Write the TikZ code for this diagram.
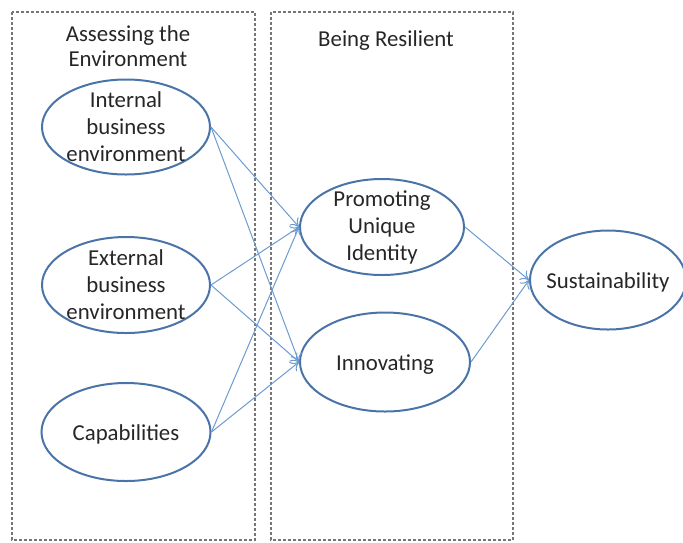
\documentclass[tikz,border=0pt]{standalone}
\usepackage{fontspec}
\setmainfont{Carlito}
\usetikzlibrary{shapes.geometric,arrows.meta}
\definecolor{ovalblue}{HTML}{4A74A8}
\definecolor{arrowblue}{HTML}{6C9BD2}
\definecolor{boxgray}{HTML}{767676}

\begin{document}
\begin{tikzpicture}[x=0.5pt,y=-0.5pt,
    oval/.style={ellipse, draw=ovalblue, line width=1pt, inner sep=0pt},
    txt/.style={align=center, font=\fontsize{11.4}{13.5}\selectfont, text=black!85},
    oneline/.style={txt, yshift=-1.2pt},
    group/.style={draw=boxgray, line width=1pt, dash pattern=on 1.5pt off 1pt},
    link/.style={draw=arrowblue, line width=0.5pt, -{To[length=4pt,width=6pt]}}]
            \useasboundingbox (0,0) rectangle (683,542);

            % the two groups
            \draw[group] (12,12) rectangle (255,540);
            \draw[group] (271,12) rectangle (513,540);
            \node[txt, font=\fontsize{11.4}{12.8}\selectfont] (assess) at (128,46) {Assessing the\\Environment};
            \node[oneline] (resil) at (386,38) {Being Resilient};

            % left column
            \node[oval, minimum width=84pt, minimum height=47.5pt,
                label={[txt]center:Internal\\business\\environment}] (int) at (126,127) {};
            \node[oval, minimum width=84pt, minimum height=48pt,
                label={[txt]center:External\\business\\environment}] (ext) at (126,285) {};
            \node[oval, minimum width=84.5pt, minimum height=49pt,
                label={[oneline]center:Capabilities}] (cap) at (126,432) {};

            % middle column
            \node[oval, minimum width=82pt, minimum height=48pt,
                label={[txt]center:Promoting\\Unique\\Identity}] (prom) at (382,227) {};
            \node[oval, minimum width=85pt, minimum height=49.5pt,
                label={[oneline]center:Innovating}] (innov) at (385,362) {};

            % right
            \node[oval, minimum width=78pt, minimum height=49.5pt,
                label={[oneline]center:Sustainability}] (sust) at (608,280) {};

            \draw[link] (int.east) -- (prom.west);
            \draw[link] (int.east) -- (innov.west);
            \draw[link] (ext.east) -- (prom.west);
            \draw[link] (ext.east) -- (innov.west);
            \draw[link] (cap.east) -- (prom.west);
            \draw[link] (cap.east) -- (innov.west);
            \draw[link] (prom.east) -- (sust.west);
            \draw[link] (innov.east) -- (sust.west);
    \end{tikzpicture}
\end{document}
